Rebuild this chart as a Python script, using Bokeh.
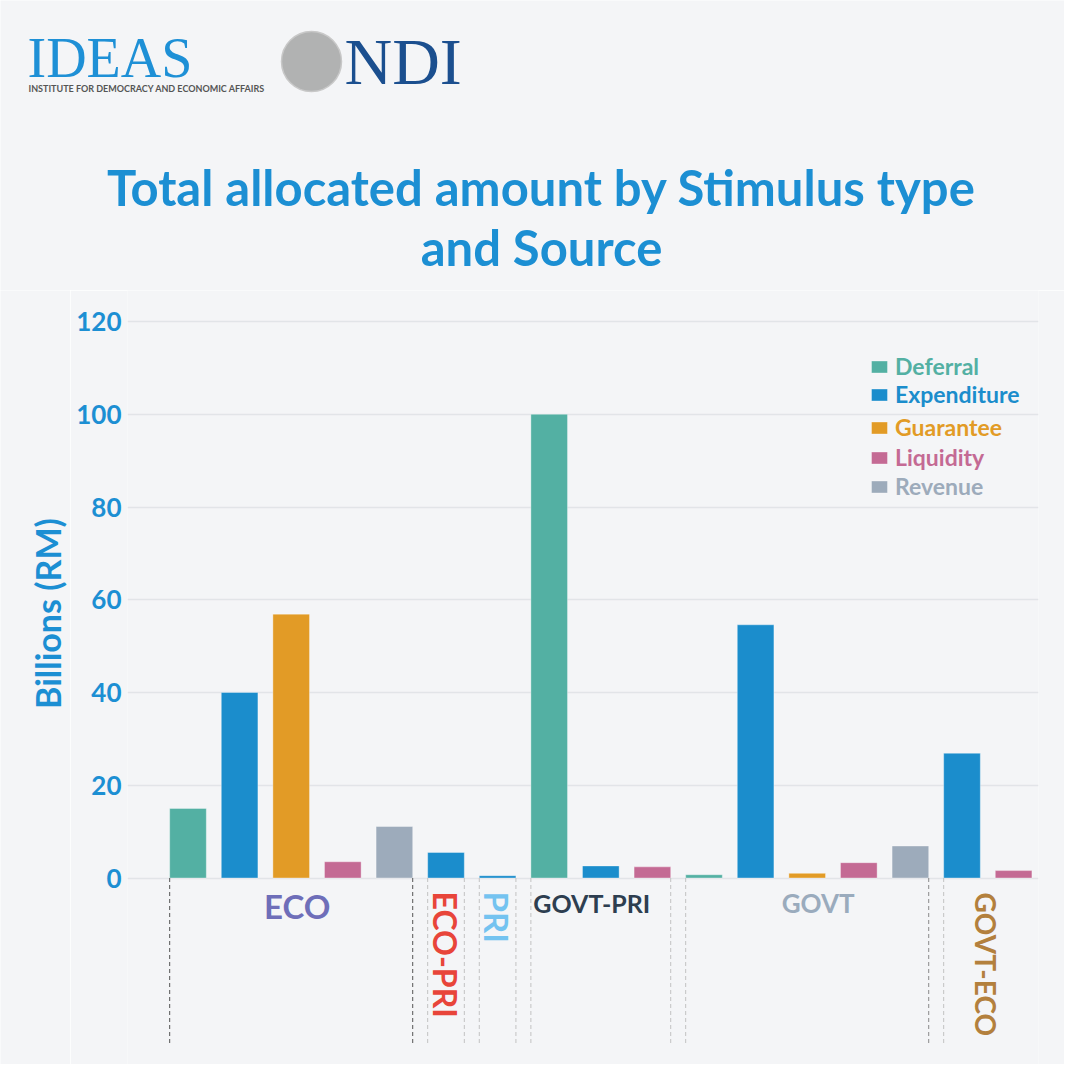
import math
from bokeh.plotting import figure
from bokeh.layouts import column, row
from bokeh.models import ColumnDataSource, FixedTicker, Legend, LegendItem, Range1d
from bokeh.core.properties import value
from bokeh.embed import file_html
from bokeh.resources import INLINE

# ---------------- data ----------------
sources = ["ECO", "ECO", "ECO", "ECO", "ECO", "ECO-PRI", "PRI",
           "GOVT-PRI", "GOVT-PRI", "GOVT-PRI",
           "GOVT", "GOVT", "GOVT", "GOVT", "GOVT",
           "GOVT-ECO", "GOVT-ECO"]
types = ["Deferral", "Expenditure", "Guarantee", "Liquidity", "Revenue",
         "Expenditure", "Expenditure",
         "Deferral", "Expenditure", "Liquidity",
         "Deferral", "Expenditure", "Guarantee", "Liquidity", "Revenue",
         "Expenditure", "Liquidity"]
amounts = [15.0, 40.0, 56.9, 3.5, 11.1, 5.5, 0.5,
           100.0, 2.6, 2.4,
           0.7, 54.6, 1.0, 3.3, 6.9,
           26.9, 1.6]
type_names = ["Deferral", "Expenditure", "Guarantee", "Liquidity", "Revenue"]
y_ticks = [0, 20, 40, 60, 80, 100, 120]
title_lines = ["Total allocated amount by Stimulus type", "and Source"]
y_title = "Billions (RM)"

# ---------------- styles ----------------
BG = "#f4f5f7"
BLUE = "#1c8fd3"
FONT = "Lato"
type_colors = {"Deferral": "#53b0a3", "Expenditure": "#1b8dcc",
               "Guarantee": "#e29b26", "Liquidity": "#c46a94",
               "Revenue": "#9dabbb"}
source_label_style = {
    "ECO": dict(color="#6e6eb9", size="33px", vertical=False, cy=905, dx=6),
    "ECO-PRI": dict(color="#e8453a", size="32px", vertical=True, cy=891, dx=-1),
    "PRI": dict(color="#74c3f0", size="33px", vertical=True, cy=891, dx=-1),
    "GOVT-PRI": dict(color="#2d3e50", size="25px", vertical=False, cy=902, dx=-9),
    "GOVT": dict(color="#9aabbd", size="26px", vertical=False, cy=902, dx=11),
    "GOVT-ECO": dict(color="#b3803d", size="28px", vertical=True, cy=892, dx=-2),
}

TOTAL_W, TOTAL_H = 1064, 1064
HEAD_H = 290
SIDE_W = 70
MAIN_W = TOTAL_W - SIDE_W
MAIN_H = TOTAL_H - HEAD_H
FRAME_L = 127           # page x of plot frame left
FRAME_R = 1038          # page x of plot frame right
ZERO_Y = 877.5          # page y of value 0
PX_PER_UNIT = 4.6375
STEP = 51.6
FIRST_BAR_X = 187.5
BAR_W = 0.71


def yd(page_y):
    return (ZERO_Y - page_y) / PX_PER_UNIT


def common(fig):
    fig.background_fill_color = BG
    fig.border_fill_color = BG
    fig.outline_line_color = None
    fig.min_border_top = 0
    fig.min_border_bottom = 0
    return fig


# ---------------- header (logos + title) ----------------
head = figure(width=TOTAL_W, height=HEAD_H, output_backend="svg", toolbar_location=None,
              x_range=Range1d(0, TOTAL_W), y_range=Range1d(HEAD_H, 0),
              x_axis_location=None, y_axis_location=None,
              min_border_left=0, min_border_right=0)
common(head)
head.grid.visible = False

head.circle(x=[311], y=[61], radius=30, fill_color="#7a7a7a", fill_alpha=0.55,
            line_color="#c8c8c8", line_width=1.5)
head.text(x=[27], y=[57], text=["IDEAS"], text_align="left", text_baseline="middle",
          text_font=value("Liberation Serif"), text_font_size="56px", text_color="#1e90d6")
head.text(x=[28], y=[87.5], text=["INSTITUTE FOR DEMOCRACY AND ECONOMIC AFFAIRS"],
          text_align="left", text_baseline="middle", text_font=value(FONT),
          text_font_style="bold", text_font_size="9px", text_color="#555555")
head.text(x=[344], y=[61], text=["NDI"], text_align="left", text_baseline="middle",
          text_font=value("Liberation Serif"), text_font_size="66px", text_color="#1b4f8f")
head.text(x=[541, 541], y=[186, 246], text=title_lines, text_align="center",
          text_baseline="middle", text_font=value(FONT), text_font_style="bold",
          text_font_size="49px", text_color=BLUE)

# ---------------- side (y axis title) ----------------
side = figure(width=SIDE_W, height=MAIN_H, output_backend="svg", toolbar_location=None,
              x_range=Range1d(0, SIDE_W), y_range=Range1d(TOTAL_H, HEAD_H),
              x_axis_location=None, y_axis_location=None,
              min_border_left=0, min_border_right=0)
common(side)
side.grid.visible = False
side.text(x=[47], y=[613], text=[y_title], angle=math.pi / 2, text_align="center",
          text_baseline="middle", text_font=value(FONT), text_font_style="bold",
          text_font_size="34px", text_color=BLUE)

# ---------------- main chart ----------------
x_start = -(FIRST_BAR_X - FRAME_L) / STEP
x_end = x_start + (FRAME_R - FRAME_L) / STEP
p = figure(width=MAIN_W, height=MAIN_H, output_backend="svg", toolbar_location=None,
           x_range=(x_start, x_end), y_range=(yd(TOTAL_H), yd(HEAD_H)),
           x_axis_location=None,
           min_border_left=FRAME_L - SIDE_W, min_border_right=TOTAL_W - FRAME_R)
common(p)

ticker = FixedTicker(ticks=y_ticks)
p.yaxis.ticker = ticker
p.ygrid.ticker = ticker
p.xgrid.visible = False
p.ygrid.grid_line_color = "#e2e4e8"
p.ygrid.grid_line_width = 1.5
p.yaxis.axis_line_color = None
p.yaxis.major_tick_line_color = None
p.yaxis.minor_tick_line_color = None
p.yaxis.major_label_standoff = 0
p.yaxis.major_label_text_font = FONT
p.yaxis.major_label_text_font_style = "bold"
p.yaxis.major_label_text_font_size = "26px"
p.yaxis.major_label_text_color = BLUE

idx = list(range(len(amounts)))
renderers = {}
for t in type_names:
    xs = [i for i in idx if types[i] == t]
    src = ColumnDataSource(dict(x=xs, top=[amounts[i] for i in xs]))
    renderers[t] = p.vbar(x="x", top="top", bottom=0, width=BAR_W, source=src,
                          fill_color=type_colors[t], line_color="white",
                          line_alpha=0.35, line_width=1)

# contiguous source groups
groups = []
for i, s in enumerate(sources):
    if groups and groups[-1][0] == s:
        groups[-1][2] = i
    else:
        groups.append([s, i, i])

dash_bottom = yd(1043)
sx0, sc = [], []
for name, a, b in groups:
    left_col = "#555555" if name == "ECO" else "#c2c2c2"
    right_col = "#555555" if name == "ECO" else ("#8a8a8a" if name == "GOVT" else "#c2c2c2")
    sx0.append(a - BAR_W / 2); sc.append(left_col)
    if name != "GOVT-ECO":
        sx0.append(b + BAR_W / 2); sc.append(right_col)
p.segment(x0=sx0, y0=[0] * len(sx0), x1=sx0, y1=[dash_bottom] * len(sx0),
          line_color=sc, line_dash="4 3", line_width=1)

for name, a, b in groups:
    st = source_label_style[name]
    cx = (a + b) / 2 + st["dx"] / STEP
    if st["vertical"]:
        p.text(x=[cx], y=[yd(st["cy"])], text=[name], angle=-math.pi / 2,
               text_align="left", text_baseline="middle",
               text_font=value(FONT), text_font_style="bold",
               text_font_size=st["size"], text_color=st["color"])
    else:
        p.text(x=[cx], y=[yd(st["cy"])], text=[name],
               text_align="center", text_baseline="middle",
               text_font=value(FONT), text_font_style="bold",
               text_font_size=st["size"], text_color=st["color"])

# one legend per type so that each label keeps its own colour
legend_centers = [368, 396, 429, 459, 488]
for t, c in zip(type_names, legend_centers):
    lg = Legend(items=[LegendItem(label=t, renderers=[renderers[t]])],
                location=(869 - FRAME_L, TOTAL_H - c - 12), orientation="vertical",
                label_text_font=FONT, label_text_font_style="bold",
                label_text_font_size="23px", label_text_color=type_colors[t],
                glyph_width=20, glyph_height=15, label_standoff=6,
                padding=0, margin=0, spacing=0, border_line_color=None,
                background_fill_alpha=0)
    p.add_layout(lg)

layout = column(head, row(side, p, spacing=0), spacing=0)
open("out.html", "w").write(file_html(layout, INLINE))
